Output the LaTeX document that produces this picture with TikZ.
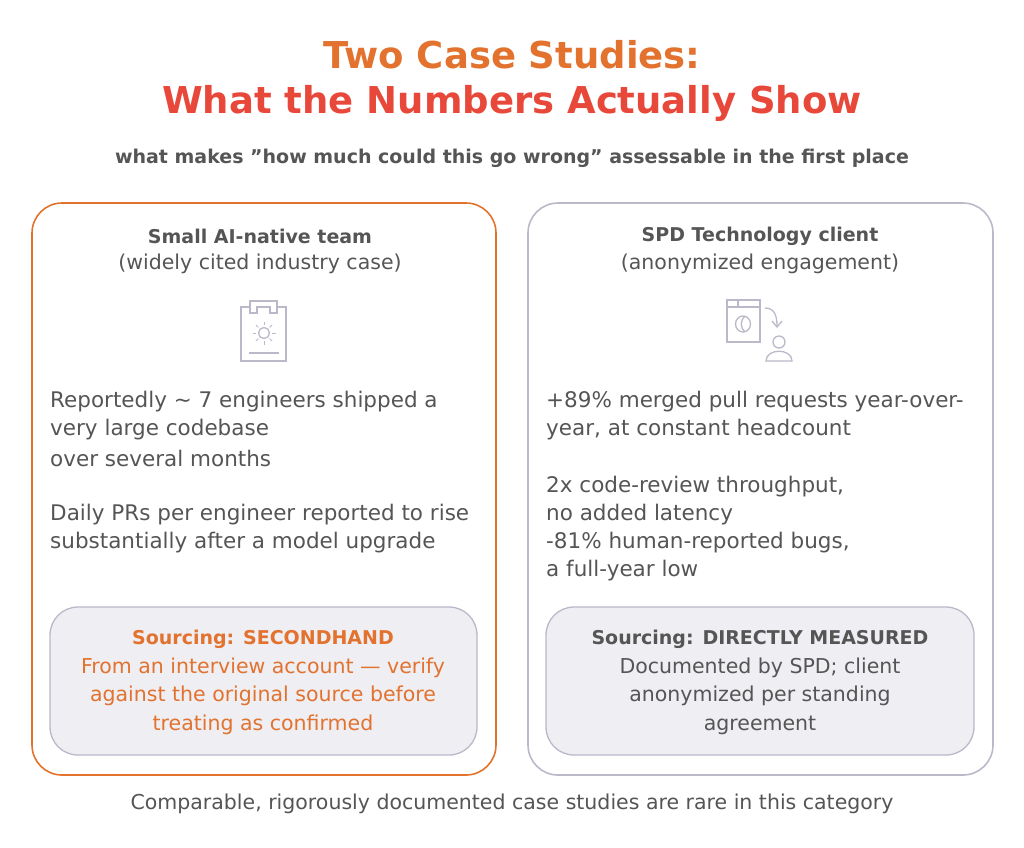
\documentclass[tikz,border=0pt]{standalone}
\usepackage{fontspec}
\setmainfont{DejaVu Sans}
\usetikzlibrary{positioning}
\definecolor{SPDorange}{HTML}{E2722E}
\definecolor{SPDred}{HTML}{E8483A}
\definecolor{SPDgray}{HTML}{B9B9C9}
\definecolor{SPDfill}{HTML}{EEEEF3}
\definecolor{SPDtext}{HTML}{555555}
\begin{document}
\begin{tikzpicture}[x=1pt,y=-1pt,
  card/.style={draw, line width=1.6pt, rounded corners=30pt},
  note/.style={draw=SPDgray, line width=1.3pt, fill=SPDfill, rounded corners=28pt},
  body/.style={anchor=west, inner sep=0, text=SPDtext, font=\fontsize{21.5}{28}\selectfont},
  head/.style={inner sep=0, text=SPDtext, font=\fontsize{19}{28}\selectfont\bfseries},
  sub/.style={inner sep=0, text=SPDtext, font=\fontsize{20.5}{28.5}\selectfont},
  icon/.style={draw=SPDgray, line width=1.3pt}]
\useasboundingbox (0,0) rectangle (1024,847);
		% Title
		\node[text=SPDorange, font=\fontsize{37}{40}\selectfont\bfseries] (title1) at (512,55) {Two Case Studies:};
		\node[text=SPDred, font=\fontsize{37}{40}\selectfont\bfseries] (title2) at (512,103) {What the Numbers Actually Show};
		\node[head, font=\fontsize{19}{20}\selectfont\bfseries] (subtitle) at (512,158) {what makes ”how much could this go wrong” assessable in the first place};
		
		% Cards
		\draw[card, draw=SPDorange] (32,203) rectangle (496,775);
		\draw[card, draw=SPDgray] (528,203) rectangle (993,775);
		\draw[note] (50,607) rectangle (477,755);
		\draw[note] (546,607) rectangle (974,755);
		
		% Left card
		\node[head] (lhead) at (260,236) {Small AI-native team};
		\node[sub] (lsub) at (260,264) {(widely cited industry case)};
		\node[body] (l1) at (50,402) {Reportedly \textasciitilde{} 7 engineers shipped a};
		\node[body] (l2) at (50,430) {very large codebase};
		\node[body] (l3) at (50,458) {over several months};
		\node[body] (l4) at (50,515) {Daily PRs per engineer reported to rise};
		\node[body] (l5) at (50,543) {substantially after a model upgrade};
		\node[head, text=SPDorange] (lsrc) at (263,639) {Sourcing: SECONDHAND};
		\node[sub, text=SPDorange, align=center] (lnote) at (263,696) {From an interview account — verify\\against the original source before\\treating as confirmed};
		
		% Right card
		\node[head] (rhead) at (760,236) {SPD Technology client};
		\node[sub] (rsub) at (760,264) {(anonymized engagement)};
		\node[body] (r1) at (546,402) {+89\% merged pull requests year-over-};
		\node[body] (r2) at (546,430) {year, at constant headcount};
		\node[body] (r3) at (546,487) {2x code-review throughput,};
		\node[body] (r4) at (546,515) {no added latency};
		\node[body] (r5) at (546,543) {-81\% human-reported bugs,};
		\node[body] (r6) at (546,571) {a full-year low};
		\node[head] (rsrc) at (760,639) {Sourcing: DIRECTLY MEASURED};
		\node[sub, align=center] (rnote) at (760,696) {Documented by SPD; client\\anonymized per standing\\agreement};
		
		% Icons
		\draw[icon] (250,307) -- (241,307) -- (241,361) -- (286,361) -- (286,307) -- (277,307);
		\draw[icon] (250,313) -- (250,301) -- (277,301) -- (277,313) -- (270,313) -- (270,307) -- (257,307) -- (257,313) -- cycle;
		\draw[icon] (264,333) circle (5.5pt);
		\foreach \a in {0,45,...,315} \draw[icon, line width=1pt] (264,333) ++(\a:8) -- ++(\a:3.5);
		\draw[icon] (249,353) -- (279,353);
		\draw[icon] (727,300) rectangle (760,342);
		\draw[icon] (727,307) -- (760,307) (738,300) -- (738,307);
		\draw[icon] (743,324) ellipse (7.5pt and 8pt);
		\draw[icon] (745,316) .. controls (740,320) and (740,328) .. (745,332);
		\draw[icon] (765,308) .. controls (774,308) and (777,315) .. (777,326);
		\draw[icon] (772,321) -- (777,327) -- (782,321);
		\draw[icon] (779,342) circle (6pt);
		\draw[icon] (766,361) .. controls (766,348) and (792,348) .. (792,361) -- cycle;
		
		% Footer
		\node[sub] (footer) at (512,804) {Comparable, rigorously documented case studies are rare in this category};
	\end{tikzpicture}
\end{document}
